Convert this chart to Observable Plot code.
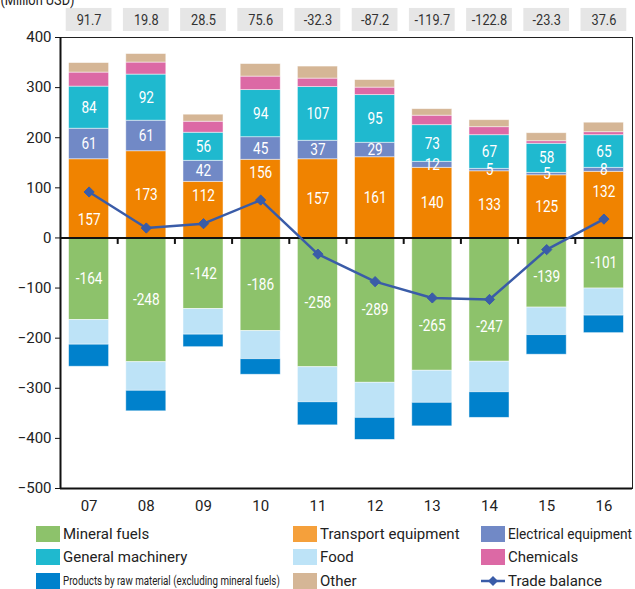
<!DOCTYPE html>
<html>
<head>
<meta charset="utf-8">
<script src="https://cdn.jsdelivr.net/npm/d3@7"></script>
<script src="https://cdn.jsdelivr.net/npm/@observablehq/plot@0.6"></script>
<style>
  html, body { margin: 0; padding: 0; background: #fff; }
  #wrap { position: relative; width: 635px; height: 589px; overflow: hidden;
          font-family: "Roboto", sans-serif; color: #222; }
  #legend { position: absolute; left: 36px; top: 522px; display: grid;
            grid-template-columns: 257px 188px 150px; grid-auto-rows: 23.5px; }
  .item { display: flex; align-items: center; font-size: 15px; white-space: nowrap; }
  .sw { width: 24px; height: 16px; margin-right: 3px; flex: none; }
  .lbl { display: inline-block; transform-origin: left center; }
  .small { font-size: 13px; display: inline-block; transform: scaleX(0.75); transform-origin: left center; }
</style>
</head>
<body>
<div id="wrap">
  <div id="chart"></div>
  <div id="legend"></div>
</div>
<script>
const years = ["07","08","09","10","11","12","13","14","15","16"];
const transport  = [157,173,112,156,157,161,140,133,125,132];
const electrical = [61,61,42,45,37,29,12,5,5,8];
const machinery  = [84,92,56,94,107,95,73,67,58,65];
const chemicals  = [28,24,22,27,17,15,19,16,5,6];
const other      = [19,17,14,25,24,15,13,14,16,19];
const mineral    = [-164,-248,-142,-186,-258,-289,-265,-247,-139,-101];
const food       = [-49,-57,-51,-56,-70,-70,-64,-61,-55,-54];
const products   = [-44,-41,-25,-31,-46,-44,-47,-51,-39,-35];
const balance    = [91.7,19.8,28.5,75.6,-32.3,-87.2,-119.7,-122.8,-23.3,37.6];
const yTicks     = [-500,-400,-300,-200,-100,0,100,200,300,400];

const seriesNames = ["Mineral fuels","Transport equipment","Electrical equipment","General machinery","Food","Chemicals","Products by raw material (excluding mineral fuels)","Other"];
const seriesColors = ["#8dc26b","#f08300","#7189c6","#1fb9cf","#bde3f7","#dc69a5","#0081cc","#d5b696"];
const legendColors = ["#8dc26b","#f5a03b","#7189c6","#1fb9cf","#bde3f7","#dc69a5","#0081cc","#d5b696"];
const balanceColor = "#3a5ca8";

const positive = [["Transport equipment", transport, true], ["Electrical equipment", electrical, true], ["General machinery", machinery, true], ["Chemicals", chemicals, false], ["Other", other, false]];
const negative = [["Mineral fuels", mineral, true], ["Food", food, false], ["Products by raw material (excluding mineral fuels)", products, false]];

const segs = [];
years.forEach((yr, i) => {
  let acc = 0;
  for (const [name, vals, lab] of positive) {
    segs.push({i, series: name, y1: acc, y2: acc + vals[i], v: vals[i], lab});
    acc += vals[i];
  }
  acc = 0;
  for (const [name, vals, lab] of negative) {
    segs.push({i, series: name, y1: acc, y2: acc + vals[i], v: vals[i], lab});
    acc += vals[i];
  }
});
// label placement: centre of segment, pushed away from the trade-balance line when too close
const gap = 55;
for (const d of segs) {
  let c = (d.y1 + d.y2) / 2;
  const b = balance[d.i];
  if (Math.abs(c - b) < gap) c = c >= b ? b + gap : b - gap;
  d.ly = c;
}
const bal = balance.map((v, i) => ({i, v}));
const half = 0.35;

const chart = Plot.plot({
  width: 635, height: 520,
  marginTop: 37, marginLeft: 60, marginRight: 3, marginBottom: 32,
  style: {fontFamily: '"Roboto", sans-serif', fontSize: "15px", color: "#222", overflow: "visible"},
  x: {type: "linear", domain: [-0.5, 9.5], axis: null},
  y: {domain: [-500, 400], axis: null},
  color: {domain: seriesNames, range: seriesColors},
  marks: [
    Plot.rect(bal, {x1: d => d.i - 0.4, x2: d => d.i + 0.4, y1: 412, y2: 458, fill: "#e6e6e6"}),
    Plot.text(bal, {x: "i", y: 435, text: d => d.v.toFixed(1), fill: "#333", fontSize: 15}),
    Plot.text(["(Million USD)"], {frameAnchor: "top-left", dx: -60, dy: -33, textAnchor: "start", lineAnchor: "bottom", fontSize: 15, fill: "#222"}),
    Plot.rectY(segs, {x1: d => d.i - half, x2: d => d.i + half, y1: "y1", y2: "y2", fill: "series", stroke: "#fff", strokeOpacity: 0.6, strokeWidth: 0.8}),
    Plot.text(segs.filter(d => d.lab), {x: "i", y: "ly", text: d => String(d.v), fill: "#fff", fontSize: 16}),
    Plot.frame({stroke: "#222", strokeWidth: 1}),
    Plot.ruleX([-0.5], {stroke: "#111", strokeWidth: 2}),
    Plot.ruleY([0, -500], {stroke: "#111", strokeWidth: 2}),
    Plot.ruleX(d3.range(1, years.length).map(i => i - 0.5), {y1: 0, y2: -13, stroke: "#111", strokeWidth: 2}),
    Plot.axisY({ticks: yTicks, tickSize: 5, tickPadding: 4, fontSize: 15, stroke: "#111", label: null}),
    Plot.axisX({ticks: d3.range(years.length), tickFormat: i => years[i], tickSize: 0, tickPadding: 12, fontSize: 15, label: null}),
    Plot.line(bal, {x: "i", y: "v", stroke: balanceColor, strokeWidth: 2.5}),
    Plot.dot(bal, {x: "i", y: "v", symbol: "diamond2", r: 4.6, fill: balanceColor, stroke: balanceColor, strokeWidth: 1})
  ]
});
document.getElementById("chart").appendChild(chart);

// narrow the lettering of the in-chart text labels (condensed look of the original)
chart.querySelectorAll('g[aria-label="text"] text').forEach(t => {
  const tr = t.getAttribute("transform");
  if (tr) t.setAttribute("transform", tr + " scale(0.85,1)");
  else {
    const x = +t.getAttribute("x") || 0, y = +t.getAttribute("y") || 0;
    t.removeAttribute("x"); t.removeAttribute("y");
    t.setAttribute("transform", `translate(${x},${y}) scale(0.85,1)`);
  }
});

const legendOrder = ["Mineral fuels","Transport equipment","Electrical equipment","General machinery","Food","Chemicals","Products by raw material (excluding mineral fuels)","Other","Trade balance"];
const legend = document.getElementById("legend");
legendOrder.forEach(name => {
  const item = document.createElement("div");
  item.className = "item";
  if (name === "Trade balance") {
    item.innerHTML = `<svg width="24" height="16" style="margin-right:3px;flex:none"><line x1="0" y1="8" x2="24" y2="8" stroke="${balanceColor}" stroke-width="2.5"/><path d="M12 3 L17 8 L12 13 L7 8 Z" fill="${balanceColor}"/></svg><span class="lbl">${name}</span>`;
  } else {
    const c = legendColors[seriesNames.indexOf(name)];
    const cls = name.startsWith("Products") ? "small" : "lbl";
    item.innerHTML = `<div class="sw" style="background:${c}"></div><span class="${cls}">${name}</span>`;
  }
  legend.appendChild(item);
});
// squeeze any legend label that would run past the right edge
const wrapRect = document.getElementById("wrap").getBoundingClientRect();
legend.querySelectorAll(".lbl").forEach(s => {
  const r = s.getBoundingClientRect();
  const room = wrapRect.right - 3 - r.left;
  if (r.width > room) s.style.transform = `scaleX(${(room / r.width).toFixed(3)})`;
});
</script>
</body>
</html>
